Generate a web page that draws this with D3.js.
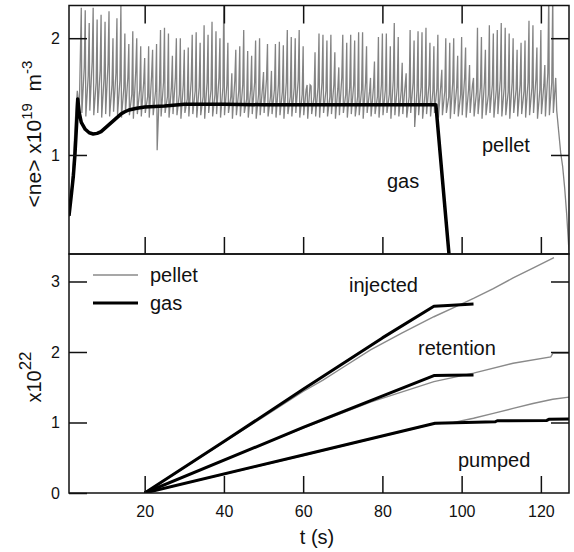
<!DOCTYPE html>
<html lang="en">
<head>
    <meta charset="UTF-8">
    <title>ne</title>
    <style>
        body{margin:0;background:#fff;}
        svg text{font-family:"Liberation Sans",Arial,sans-serif;fill:#111;}
        .axis path{display:none;}
        .axis line{stroke:#111;stroke-width:1.5;}
        .axis text{font-size:16px;}
        .frame{fill:none;stroke:#111;stroke-width:1.5;}
        .note{font-size:20px;}
    </style>
    <script src="https://cdn.jsdelivr.net/npm/d3@7"></script>
</head>
<body>
<script>
    // top panel: pellet spikes, one peak / low / mid sample per second from t=4 to t=123
    var pelletRiseT = [0.9, 1.5, 2.0, 2.5, 3.0, 3.5];
    var pelletRiseV = [0.47, 0.70, 0.95, 1.30, 1.55, 1.40];
    var pelletPeak = [
        2.26,2.24,2.13,2.26,2.16,2.20,2.14,2.23,2.00,2.17,
        2.28,2.04,1.95,2.06,2.00,1.93,1.83,1.93,1.90,1.95,
        2.07,2.09,2.04,1.85,2.00,2.00,1.90,1.92,2.03,2.05,
        1.96,2.11,2.03,2.14,2.06,2.00,2.40,1.96,1.70,1.90,
        1.93,2.07,1.89,1.85,1.98,2.00,1.71,1.95,1.72,1.95,
        1.97,1.94,2.07,2.01,2.00,2.07,1.93,1.60,1.59,1.88,
        2.04,2.03,1.98,2.03,1.88,1.75,2.03,1.96,2.03,1.98,
        2.05,2.05,1.93,1.66,1.80,2.01,2.04,2.04,1.93,2.13,
        2.01,1.79,1.70,2.07,1.98,2.06,2.05,2.09,1.96,1.93,
        2.03,1.73,2.00,1.96,2.00,1.85,2.01,1.92,1.77,1.66,
        2.09,2.01,1.90,2.11,2.04,2.07,2.13,2.09,2.04,2.00,
        1.90,1.96,1.98,2.15,2.11,1.92,2.07,1.77,2.40,2.40];
    var pelletLow = [
        1.36,1.33,1.38,1.34,1.36,1.32,1.35,1.33,1.37,1.34,
        1.32,1.36,1.34,1.31,1.35,1.33,1.36,1.32,1.34,1.04,
        1.33,1.36,1.32,1.35,1.34,1.31,1.36,1.33,1.35,1.32,
        1.34,1.31,1.36,1.33,1.35,1.32,1.34,1.36,1.31,1.34,
        1.33,1.36,1.32,1.35,1.31,1.34,1.36,1.33,1.35,1.32,
        1.34,1.31,1.35,1.33,1.36,1.32,1.34,1.31,1.35,1.33,
        1.32,1.36,1.33,1.35,1.31,1.34,1.36,1.32,1.35,1.33,
        1.34,1.31,1.36,1.33,1.35,1.32,1.34,1.36,1.31,1.34,
        1.33,1.35,1.32,1.36,1.24,1.34,1.31,1.35,1.33,1.36,
        1.32,1.34,1.36,1.31,1.35,1.33,1.34,1.32,1.36,1.33,
        1.35,1.31,1.34,1.36,1.32,1.35,1.33,1.34,1.31,1.36,
        1.33,1.35,1.32,1.34,1.36,1.31,1.35,1.33,1.34,1.36];
    var pelletMid = [
        1.75,1.68,1.80,1.62,1.72,1.66,1.78,1.60,1.70,1.64,
        1.58,1.66,1.52,1.72,1.56,1.62,1.50,1.68,1.55,1.60,
        1.62,1.50,1.58,1.66,1.52,1.60,1.48,1.64,1.55,1.58,
        1.50,1.62,1.56,1.52,1.66,1.58,1.60,1.50,1.64,1.55,
        1.60,1.48,1.56,1.62,1.52,1.58,1.65,1.50,1.56,1.60,
        1.54,1.62,1.50,1.58,1.64,1.52,1.56,1.60,1.50,1.58,
        1.62,1.55,1.50,1.60,1.57,1.66,1.52,1.58,1.60,1.50,
        1.56,1.62,1.54,1.58,1.50,1.60,1.56,1.52,1.64,1.58,
        1.55,1.60,1.50,1.62,1.56,1.58,1.52,1.60,1.55,1.57,
        1.60,1.55,1.50,1.62,1.58,1.52,1.66,1.56,1.60,1.54,
        1.58,1.62,1.52,1.60,1.56,1.64,1.58,1.54,1.62,1.56,
        1.60,1.55,1.62,1.58,1.65,1.56,1.60,1.70,1.62,1.66];
    var pelletFallT = [124.0, 124.5, 125.0, 125.5, 126.0, 126.5, 127.2];
    var pelletFallV = [1.38, 1.20, 1.02, 0.90, 0.72, 0.50, 0.12];

    // top panel: gas fuelled shot
    var gasT  = [0.9, 1.5, 2.0, 2.4, 2.8, 3.1, 3.5, 4, 5, 6, 7, 8, 9, 10, 11, 12, 13, 14, 15, 16, 18, 20, 25, 30, 40, 50, 60, 70, 80, 90, 93.5, 97.2];
    var gasNe = [0.48, 0.66, 0.82, 1.00, 1.25, 1.48, 1.36, 1.28, 1.22, 1.19, 1.18, 1.185, 1.20, 1.23, 1.26, 1.29, 1.32, 1.35, 1.37, 1.385, 1.40, 1.41, 1.42, 1.435, 1.435, 1.43, 1.43, 1.43, 1.43, 1.43, 1.43, 0.0];

    // bottom panel: particle inventories (x10^22)
    var injGasT = [20, 40, 60, 80, 93, 96.5, 103];
    var injGasV = [0, 0.73, 1.47, 2.20, 2.65, 2.66, 2.68];
    var injPelT = [20, 30, 40, 50, 60, 65, 70, 77, 85, 93, 98, 103, 108, 113, 118, 123.3];
    var injPelV = [0, 0.36, 0.72, 1.08, 1.44, 1.60, 1.78, 2.03, 2.27, 2.50, 2.63, 2.76, 2.90, 3.05, 3.19, 3.34];
    var retGasT = [20, 60, 93, 97, 103];
    var retGasV = [0, 0.93, 1.665, 1.67, 1.675];
    var retPelT = [20, 40, 60, 77, 93, 103, 113, 122.5, 123, 127.2];
    var retPelV = [0, 0.47, 0.92, 1.29, 1.58, 1.70, 1.84, 1.93, 1.98, 1.98];
    var pumpGasT = [20, 60, 93.3, 101, 108.5, 109, 121.5, 122, 127.2];
    var pumpGasV = [0, 0.54, 0.99, 1.00, 1.01, 1.025, 1.03, 1.045, 1.05];
    var pumpPelT = [20, 60, 93, 98, 103, 108, 113, 118, 123, 127.2];
    var pumpPelV = [0, 0.53, 0.98, 1.00, 1.06, 1.13, 1.20, 1.27, 1.33, 1.36];

    var xTicks = [20, 40, 60, 80, 100, 120];
    var topTicks = [1, 2];
    var botTicks = [0, 1, 2, 3];

    var width = 574, height = 552;
    var left = 69, right = 569;
    var top1 = 5.5, bot1 = 254, bot2 = 493;

    var svg = d3.select("body").append("svg")
            .attr("width", width)
            .attr("height", height);

    var x = d3.scaleLinear().domain([0.9, 127.1]).range([left, right]);
    var y1 = d3.scaleLinear().domain([0.152, 2.28]).range([bot1, top1]);
    var y2 = d3.scaleLinear().domain([0, 3.39]).range([bot2, bot1]);

    // clip areas
    var defs = svg.append("defs");
    defs.append("clipPath").attr("id", "c1").append("rect")
            .attr("x", left).attr("y", top1).attr("width", right - left).attr("height", bot1 - top1);
    defs.append("clipPath").attr("id", "c2").append("rect")
            .attr("x", left).attr("y", bot1).attr("width", right - left).attr("height", bot2 - bot1);

    function zip(t, v) { return t.map(function(d, i){ return [d, v[i]]; }); }

    // pellet trace: narrow spike each second, drop to the low, small bump in the noisy band
    var pellet = zip(pelletRiseT, pelletRiseV);
    pelletPeak.forEach(function(d, i){
        var t = 4 + i;
        pellet.push([t, d]);
        pellet.push([t + 0.15, pelletLow[i]]);
        pellet.push([t + 0.75, pelletMid[i]]);
    });
    pellet = pellet.concat(zip(pelletFallT, pelletFallV));

    var line1 = d3.line().x(function(d){ return x(d[0]); }).y(function(d){ return y1(d[1]); });
    var line2 = d3.line().x(function(d){ return x(d[0]); }).y(function(d){ return y2(d[1]); });

    var g1 = svg.append("g").attr("clip-path", "url(#c1)");
    g1.append("path").attr("d", line1(pellet))
            .attr("fill", "none").attr("stroke", "#838383").attr("stroke-width", 1.3);
    g1.append("path").attr("d", line1(zip(gasT, gasNe)))
            .attr("fill", "none").attr("stroke", "#000").attr("stroke-width", 3.5)
            .attr("stroke-linejoin", "round");

    var g2 = svg.append("g").attr("clip-path", "url(#c2)");
    [[injPelT, injPelV], [retPelT, retPelV], [pumpPelT, pumpPelV]].forEach(function(s){
        g2.append("path").attr("d", line2(zip(s[0], s[1])))
                .attr("fill", "none").attr("stroke", "#8a8a8a").attr("stroke-width", 1.4);
    });
    [[injGasT, injGasV], [retGasT, retGasV], [pumpGasT, pumpGasV]].forEach(function(s){
        g2.append("path").attr("d", line2(zip(s[0], s[1])))
                .attr("fill", "none").attr("stroke", "#000").attr("stroke-width", 3)
                .attr("stroke-linejoin", "round");
    });

    // axes, ticks point inward
    var fmt = d3.format("d");
    svg.append("g").attr("class", "axis")
            .attr("transform", "translate(0," + bot2 + ")")
            .call(d3.axisBottom(x).tickValues(xTicks).tickSize(-17).tickPadding(12.5));
    svg.append("g").attr("class", "axis")
            .attr("transform", "translate(0," + bot1 + ")")
            .call(d3.axisBottom(x).tickValues(xTicks).tickSize(-17).tickFormat(""));
    svg.append("g").attr("class", "axis")
            .attr("transform", "translate(0," + top1 + ")")
            .call(d3.axisTop(x).tickValues(xTicks).tickSize(-18).tickFormat(""));
    svg.append("g").attr("class", "axis")
            .attr("transform", "translate(" + left + ",0)")
            .call(d3.axisLeft(y1).tickValues(topTicks).tickSize(-18).tickPadding(9).tickFormat(fmt));
    svg.append("g").attr("class", "axis")
            .attr("transform", "translate(" + right + ",0)")
            .call(d3.axisRight(y1).tickValues(topTicks).tickSize(-18).tickFormat(""));
    svg.append("g").attr("class", "axis")
            .attr("transform", "translate(" + left + ",0)")
            .call(d3.axisLeft(y2).tickValues(botTicks).tickSize(-18).tickPadding(9).tickFormat(fmt));
    svg.append("g").attr("class", "axis")
            .attr("transform", "translate(" + right + ",0)")
            .call(d3.axisRight(y2).tickValues(botTicks.slice(1)).tickSize(-18).tickFormat(""));

    svg.append("rect").attr("class", "frame")
            .attr("x", left).attr("y", top1).attr("width", right - left).attr("height", bot1 - top1);
    svg.append("rect").attr("class", "frame")
            .attr("x", left).attr("y", bot1).attr("width", right - left).attr("height", bot2 - bot1);

    // axis titles
    var yt1 = svg.append("text").attr("class", "note")
            .attr("transform", "translate(41,134) rotate(-90)")
            .attr("text-anchor", "middle")
            .style("font-size", "21px");
    yt1.append("tspan").text("<ne>\u00a0x10");
    yt1.append("tspan").attr("dy", -9).style("font-size", "15px").text("19");
    yt1.append("tspan").attr("dy", 9).text("\u00a0\u00a0m");
    yt1.append("tspan").attr("dy", -9).style("font-size", "15px").text("-3");

    var yt2 = svg.append("text").attr("class", "note")
            .attr("transform", "translate(41,377) rotate(-90)")
            .attr("text-anchor", "middle");
    yt2.append("tspan").text("x10");
    yt2.append("tspan").attr("dy", -10).style("font-size", "17px").text("22");

    svg.append("text").attr("class", "note")
            .attr("x", 317).attr("y", 544).attr("text-anchor", "middle").text("t (s)");

    // annotations
    svg.append("text").attr("class", "note").attr("x", 482).attr("y", 152).text("pellet");
    svg.append("text").attr("class", "note").attr("x", 387).attr("y", 188).text("gas");
    svg.append("text").attr("class", "note").attr("x", 349).attr("y", 292).text("injected");
    svg.append("text").attr("class", "note").attr("x", 418).attr("y", 355).text("retention");
    svg.append("text").attr("class", "note").attr("x", 458).attr("y", 467).text("pumped");

    // legend
    svg.append("line").attr("x1", 93).attr("x2", 138).attr("y1", 275).attr("y2", 275)
            .attr("stroke", "#8a8a8a").attr("stroke-width", 1.5);
    svg.append("line").attr("x1", 93).attr("x2", 138).attr("y1", 303).attr("y2", 303)
            .attr("stroke", "#000").attr("stroke-width", 3);
    svg.append("text").attr("class", "note").attr("x", 150).attr("y", 282).text("pellet");
    svg.append("text").attr("class", "note").attr("x", 150).attr("y", 310).text("gas");
</script>
</body>
</html>
